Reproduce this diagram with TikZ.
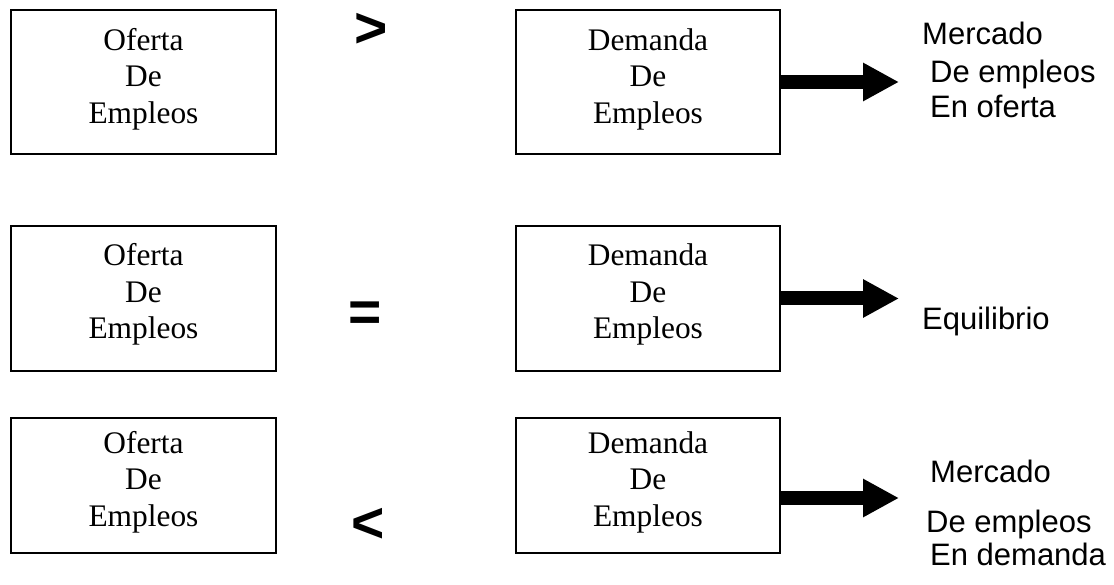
\documentclass[tikz,border=0pt]{standalone}
\usepackage{fontspec}
\setmainfont{Liberation Serif}
\newfontfamily\arialfont{Liberation Sans}
\usetikzlibrary{arrows.meta}

\tikzset{
  box/.style={draw=black, line width=1.5pt, minimum width=265pt, minimum height=144pt, inner sep=0pt},
  boxtext/.style={align=center, inner sep=0pt, font=\fontsize{31.4}{36.5}\selectfont},
  relsym/.style={inner sep=0pt, font=\arialfont\bfseries\fontsize{57}{57}\selectfont},
  note/.style={anchor=base west, inner sep=0pt, font=\arialfont\fontsize{31}{37}\selectfont},
  bigarrow/.style={line width=14pt, -{Triangle[length=36pt, width=36pt]}}
}

\begin{document}
\begin{tikzpicture}[x=1pt, y=-1pt]
\useasboundingbox (0,0) rectangle (1114,585);

% Supply boxes (left column)
\node[box] (o1) at (143.5,82) {};
\node[box, minimum height=145pt] (o2) at (143.5,298.5) {};
\node[box, minimum height=135pt] (o3) at (143.5,485.5) {};
\node[boxtext] (o1t) at (143.5,79) {Oferta\\De\\Empleos};
\node[boxtext] (o2t) at (143.5,294.5) {Oferta\\De\\Empleos};
\node[boxtext] (o3t) at (143.5,482) {Oferta\\De\\Empleos};

% Demand boxes (right column)
\node[box, minimum width=264pt] (d1) at (648,82) {};
\node[box, minimum width=264pt, minimum height=145pt] (d2) at (648,298.5) {};
\node[box, minimum width=264pt, minimum height=135pt] (d3) at (648,485.5) {};
\node[boxtext] (d1t) at (648,79) {Demanda\\De\\Empleos};
\node[boxtext] (d2t) at (648,294.5) {Demanda\\De\\Empleos};
\node[boxtext] (d3t) at (648,482) {Demanda\\De\\Empleos};

% Comparison signs
\node[relsym] (gt) at (371,30) {>};
\node[relsym] (eq) at (365,317) {=};
\node[relsym] (lt) at (368,525.5) {<};

% Result arrows
\coordinate (t1) at (899,82);
\coordinate (t2) at (899,298.5);
\coordinate (t3) at (899,498);
\coordinate (s3) at (780,498);
\draw[bigarrow] (d1.east) -- (t1);
\draw[bigarrow] (d2.east) -- (t2);
\draw[bigarrow] (s3) -- (t3);

% Outcomes
\node[note] (r1a) at (922,45) {Mercado};
\node[note] (r1b) at (930,83) {De empleos};
\node[note] (r1c) at (930,118) {En oferta};
\node[note] (r2) at (922,330) {Equilibrio};
\node[note] (r3a) at (930,482) {Mercado};
\node[note] (r3b) at (926,532) {De empleos};
\node[note] (r3c) at (930,565) {En demanda};
\end{tikzpicture}
\end{document}
